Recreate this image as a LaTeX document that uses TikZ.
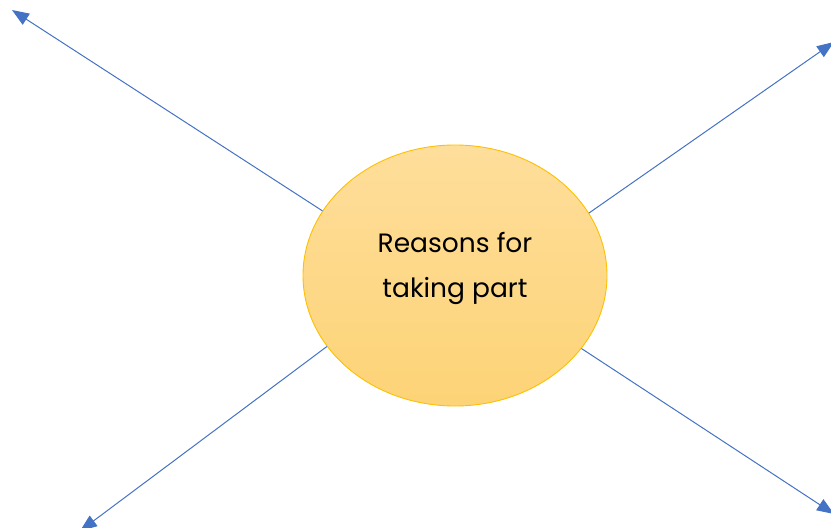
\documentclass[tikz,border=0pt]{standalone}
\usepackage{fontspec}
\setmainfont{Poppins}
\usetikzlibrary{shapes.geometric,arrows.meta}
\definecolor{arrowblue}{RGB}{68,114,196}
\definecolor{ringgold}{RGB}{255,192,0}
\definecolor{filltop}{RGB}{254,222,155}
\definecolor{fillbot}{RGB}{253,211,118}
\tikzset{
  x=1pt,y=-1pt,
  hub/.style={ellipse,draw=ringgold,line width=0.9pt,top color=filltop,bottom color=fillbot,minimum width=304pt,minimum height=261pt,inner sep=0pt},
  spoke/.style={draw=arrowblue,line width=1pt,-{Triangle[length=17pt,width=13pt]}},
  hubtext/.style={align=center,font=\fontsize{26.5}{45}\selectfont,text=black}
}
\begin{document}
\begin{tikzpicture}
\useasboundingbox (0,0) rectangle (831,528);
\node[hub] (c) at (455,275.5) {};
\node[hubtext] (t) at (455,268) {Reasons for\\taking part};
\coordinate (tl) at (12,10);
\coordinate (tr) at (834,42);
\coordinate (bl) at (80,531);
\coordinate (br) at (834,514);
\draw[spoke] (c.154.7) -- (tl);
\draw[spoke] (c.25.3) -- (tr);
\draw[spoke] (c.209.4) -- (bl);
\draw[spoke] (c.330.6) -- (br);
\end{tikzpicture}
\end{document}
